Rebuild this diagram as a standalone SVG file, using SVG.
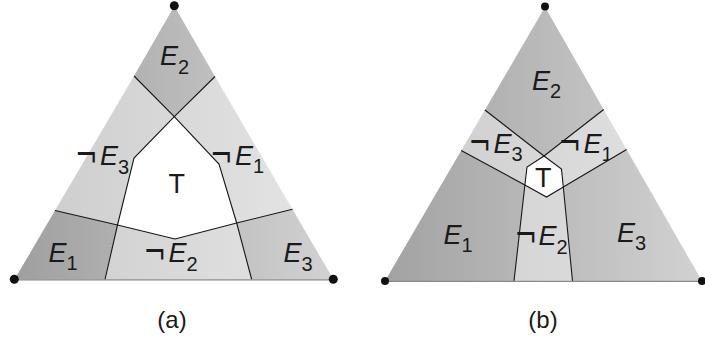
<svg xmlns="http://www.w3.org/2000/svg" width="705" height="343" viewBox="0 0 705 343">
<style>
.lbl{font-family:"Liberation Sans",Arial,sans-serif;fill:#1a1a1a}
.e{font-size:27px;font-style:italic}
.sub{font-size:20px;font-style:normal}
.neg{font-family:"DejaVu Sans",sans-serif;font-size:27px;fill:#1a1a1a}
.t{font-size:27px}
.cap{font-size:24px;text-anchor:middle}
.div{fill:none;stroke:#161616;stroke-width:1.1;stroke-linejoin:miter}
.base{stroke:#8a8a8a;stroke-width:1.2}
.dot{fill:#111}
.white{fill:#fff}
</style>
<defs>
<linearGradient id="darkA" gradientUnits="userSpaceOnUse" x1="15" y1="0" x2="333" y2="0">
<stop offset="0" stop-color="#9f9f9f"/><stop offset="1" stop-color="#d2d2d2"/>
</linearGradient>
<linearGradient id="lightA" gradientUnits="userSpaceOnUse" x1="15" y1="0" x2="333" y2="0">
<stop offset="0" stop-color="#cbcbcb"/><stop offset="1" stop-color="#e6e6e6"/>
</linearGradient>
<linearGradient id="darkB" gradientUnits="userSpaceOnUse" x1="385" y1="0" x2="702" y2="0">
<stop offset="0" stop-color="#a2a2a2"/><stop offset="1" stop-color="#d2d2d2"/>
</linearGradient>
<linearGradient id="lightB" gradientUnits="userSpaceOnUse" x1="385" y1="0" x2="702" y2="0">
<stop offset="0" stop-color="#cbcbcb"/><stop offset="1" stop-color="#e4e4e4"/>
</linearGradient>
</defs>

<!-- Diagram (a) -->
<g id="a-E2"><polygon points="174.3,6 215,76.5 174.3,116.7 134,76" fill="url(#darkA)"/>
<text class="lbl e" x="160" y="65">E<tspan class="sub" dy="9">2</tspan></text></g>
<g id="a-notE1"><polygon points="215,76.5 292.5,209.3 236.7,223 219,164 174.3,116.7" fill="url(#lightA)"/>
<text class="neg" transform="translate(210,167.5) scale(1,1.35)">¬</text>
<text class="lbl e" x="235" y="165">E<tspan class="sub" dy="8">1</tspan></text></g>
<g id="a-notE3"><polygon points="134,76 174.3,116.7 134,158 117.5,225 55,210.5" fill="url(#lightA)"/>
<text class="neg" transform="translate(75,167.5) scale(1,1.35)">¬</text>
<text class="lbl e" x="100" y="165">E<tspan class="sub" dy="9">3</tspan></text></g>
<g id="a-T"><polygon class="white" points="174.3,116.7 219,164 236.7,223 175,239 117.5,225 134,158"/>
<text class="lbl t" x="176.7" y="193" text-anchor="middle">T</text></g>
<g id="a-E1"><polygon points="55,210.5 117.5,225 105,279.5 14.5,279.5" fill="url(#darkA)"/>
<text class="lbl e" x="48.5" y="262">E<tspan class="sub" dy="8">1</tspan></text></g>
<g id="a-notE2"><polygon points="117.5,225 175,239 236.7,223 251.7,279.5 105,279.5" fill="url(#lightA)"/>
<text class="neg" transform="translate(143.5,264.5) scale(1,1.35)">¬</text>
<text class="lbl e" x="168.5" y="262">E<tspan class="sub" dy="9">2</tspan></text></g>
<g id="a-E3"><polygon points="236.7,223 292.5,209.3 333.5,279.5 251.7,279.5" fill="url(#darkA)"/>
<text class="lbl e" x="283.5" y="262">E<tspan class="sub" dy="9">3</tspan></text></g>

<!-- Diagram (b) -->
<g id="b-E2"><polygon points="545,7 603.7,109.5 544,156 484.9,110" fill="url(#darkB)"/>
<text class="lbl e" x="532" y="90">E<tspan class="sub" dy="8">2</tspan></text></g>
<g id="b-notE3"><polygon points="484.9,110 544,156 527,167 524.9,185 461.2,150.5" fill="url(#lightB)"/>
<text class="neg" transform="translate(468.5,155.5) scale(1,1.35)">¬</text>
<text class="lbl e" x="493.5" y="153">E<tspan class="sub" dy="8">3</tspan></text></g>
<g id="b-notE1"><polygon points="544,156 603.7,109.5 626.6,149.5 563.3,187 561.5,169" fill="url(#lightB)"/>
<text class="neg" transform="translate(558.5,155.5) scale(1,1.35)">¬</text>
<text class="lbl e" x="583.5" y="153">E<tspan class="sub" dy="8">1</tspan></text></g>
<g id="b-T"><polygon class="white" points="544,156 561.5,169 563.3,187 546.5,197 524.9,185 527,167"/>
<text class="lbl t" x="543.3" y="186.7" text-anchor="middle">T</text></g>
<g id="b-E1"><polygon points="461.2,150.5 524.9,185 514,281 385,281" fill="url(#darkB)"/>
<text class="lbl e" x="443.5" y="243.5">E<tspan class="sub" dy="8">1</tspan></text></g>
<g id="b-notE2"><polygon points="524.9,185 546.5,197 563.3,187 572.5,281 514,281" fill="url(#lightB)"/>
<text class="neg" transform="translate(514.5,247.5) scale(1,1.35)">¬</text>
<text class="lbl e" x="538.5" y="245">E<tspan class="sub" dy="9">2</tspan></text></g>
<g id="b-E3"><polygon points="563.3,187 626.6,149.5 702,281 572.5,281" fill="url(#darkB)"/>
<text class="lbl e" x="617" y="241.7">E<tspan class="sub" dy="8">3</tspan></text></g>

<!-- Connectors: dividing lines -->
<g id="connectors">
<polyline class="div" points="134,76 174.3,116.7 219,164 236.7,223 251.7,279.5"/>
<polyline class="div" points="215,76.5 174.3,116.7 134,158 117.5,225 105,279.5"/>
<polyline class="div" points="55,210.5 117.5,225 175,239 236.7,223 292.5,209.3"/>
<line class="base" x1="14.5" y1="279.8" x2="333.5" y2="279.8"/>
<polyline class="div" points="484.9,110 544,156 561.5,169 563.3,187 572.5,281"/>
<polyline class="div" points="603.7,109.5 544,156 527,167 524.9,185 514,281"/>
<polyline class="div" points="461.2,150.5 524.9,185 546.5,197 563.3,187 626.6,149.5"/>
<line class="base" x1="385" y1="281.3" x2="702" y2="281.3"/>
</g>

<g id="vertices">
<circle class="dot" cx="174.3" cy="5.7" r="4.5"/>
<circle class="dot" cx="14.3" cy="279.3" r="4.5"/>
<circle class="dot" cx="333.3" cy="279.3" r="4.5"/>
<circle class="dot" cx="545" cy="6.5" r="4"/>
<circle class="dot" cx="385" cy="281" r="4"/>
<circle class="dot" cx="702" cy="281" r="4"/>
</g>

<text class="lbl cap" x="172" y="328">(a)</text>
<text class="lbl cap" x="543" y="328">(b)</text>
</svg>
